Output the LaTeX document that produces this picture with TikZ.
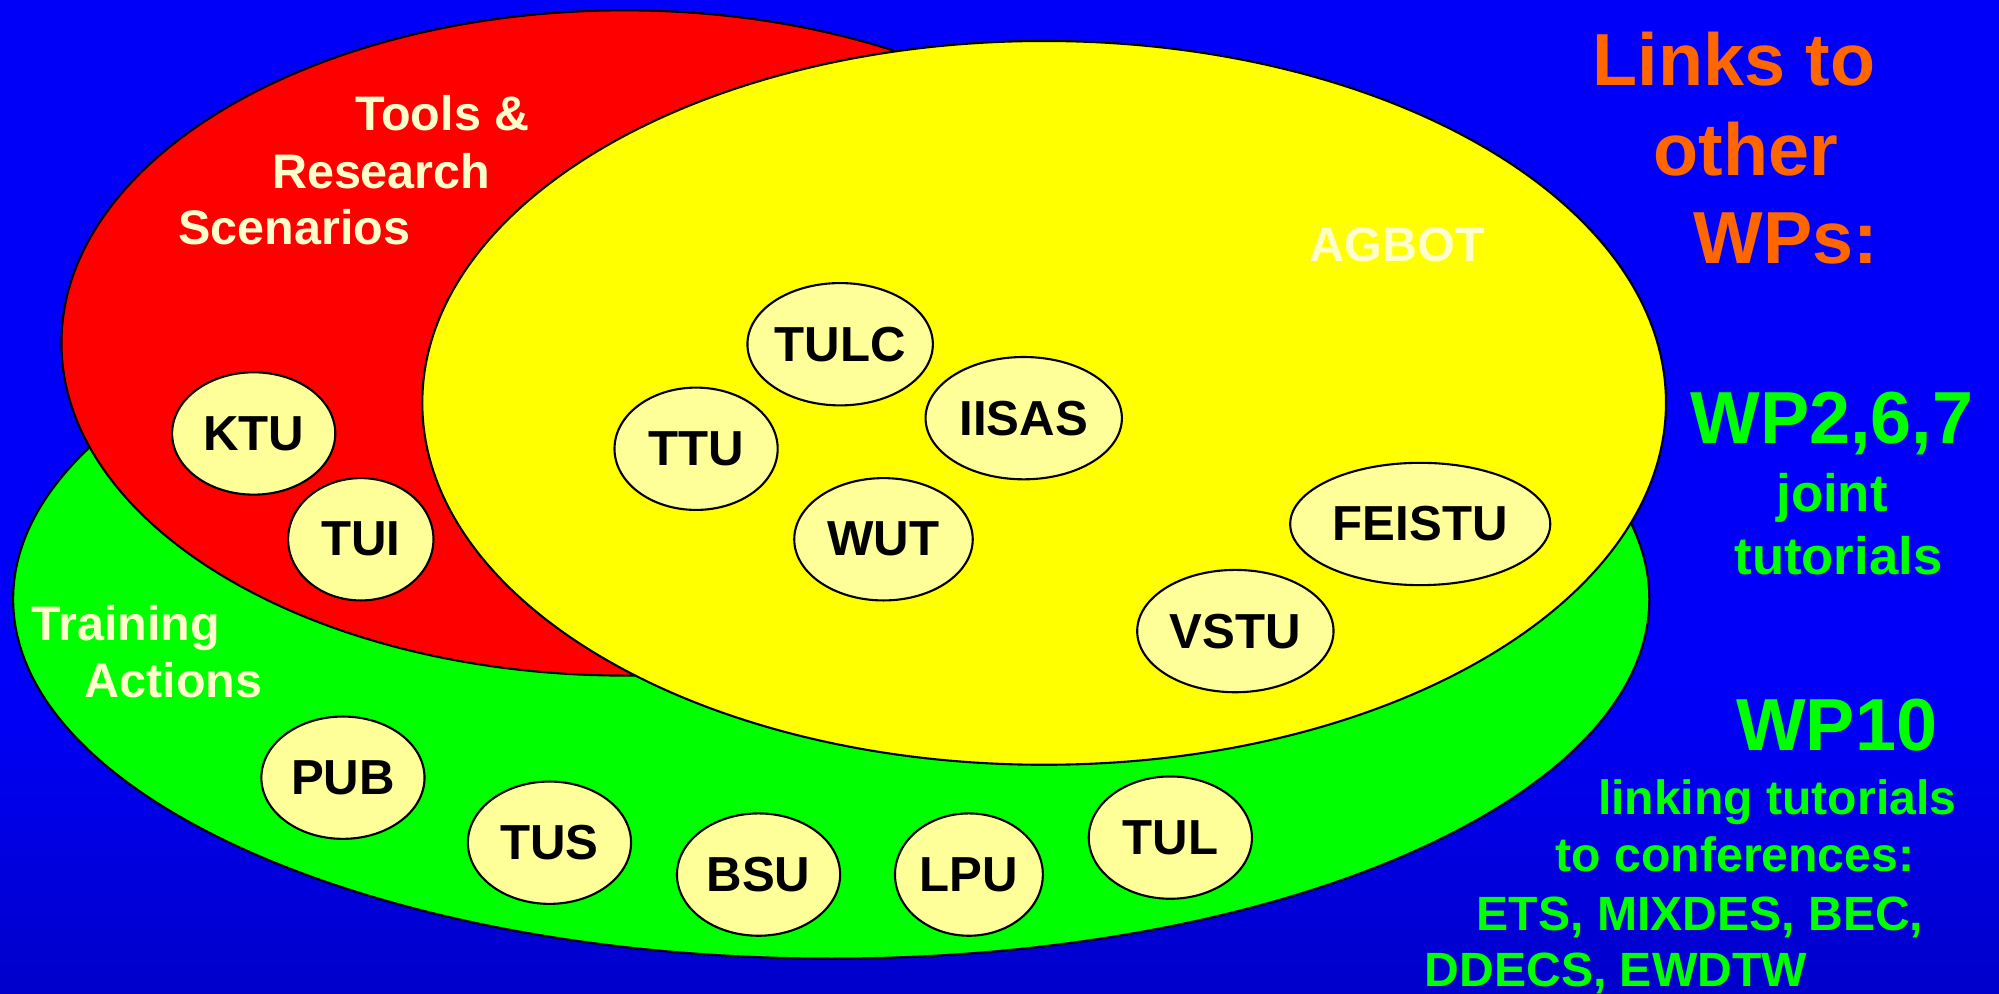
\documentclass[tikz,border=0pt]{standalone}
\usepackage{fontspec}
\setmainfont{Liberation Sans}
\usetikzlibrary{shapes.geometric}

\definecolor{bluscuro}{HTML}{0000A8}
\definecolor{blu}{HTML}{0000F8}
\definecolor{blufondo}{HTML}{00007E}
\definecolor{rosso}{HTML}{FF0000}
\definecolor{giallo}{HTML}{FFFF00}
\definecolor{verde}{HTML}{00FF00}
\definecolor{crema}{HTML}{FFFF99}
\definecolor{testo}{HTML}{FFFFCC}
\definecolor{arancio}{HTML}{FF6600}

% sfumatura dello sfondo (dal basso verso l'alto)
\pgfdeclareverticalshading{fondo}{100bp}{color(0bp)=(blufondo); color(40bp)=(blu);
  color(76bp)=(blu); color(100bp)=(bluscuro)}

\begin{document}
\begin{tikzpicture}[x=0.01275cm, y=-0.01275cm]
\tikzstyle{area} = [draw, line width=0.6pt, ellipse, inner sep=0]
\tikzstyle{ente} = [draw, line width=0.6pt, ellipse, fill=crema, inner sep=0, minimum height=1.224cm, font=\fontsize{14}{17}\selectfont\bfseries]
\tikzstyle{etich} = [anchor=base, text=testo, inner sep=0, font=\fontsize{13.8}{17}\selectfont\bfseries]
\tikzstyle{titolo} = [anchor=base, inner sep=0, font=\fontsize{21}{25}\selectfont\bfseries]
\tikzstyle{nota} = [anchor=base, inner sep=0, text=verde, font=\fontsize{13.7}{17}\selectfont\bfseries]

% Sfondo
\useasboundingbox (0,0) rectangle (1568,779);
\clip (0,0) rectangle (1568,779);
\shade[shading=fondo] (0,0) rectangle (1568,779);

% Tre aree
\node[area, fill=verde, minimum width=16.371cm, minimum height=7.191cm] (training) at (652,470) {};
\node[area, fill=rosso, minimum width=11.271cm, minimum height=6.656cm] (tools) at (490,269) {};
\node[area, fill=giallo, minimum width=12.444cm, minimum height=7.242cm] (agbot) at (819,316) {};

% Partner
\foreach \nome/\testo/\x/\y/\r in {
    tulc/TULC/659/270/70, iisas/IISAS/803/328/77, ttu/TTU/546/352/64,
    wut/WUT/693/423/70, ktu/KTU/199/340/64, tui/TUI/283/423/57,
    feistu/FEISTU/1114/411/102, vstu/VSTU/969/495/77,
    pub/PUB/269/610/64, tus/TUS/431/661/64, bsu/BSU/595/686/64,
    lpu/LPU/760/686/58, tul/TUL/918/657/64} {
  \pgfmathsetmacro{\larg}{2*\r*0.01275}
  \node[ente, minimum width=\larg cm] (\nome) at (\x,\y) {\testo};
}

% Nomi delle aree
\foreach \nome/\testo/\x/\y in {
    t-1/Tools \&/347/102.5, t-2/Research/299/147.7, t-3/Scenarios/231/192,
    a-1/AGBOT/1096/205, g-1/Training/98.5/502.5, g-2/Actions/136/547} {
  \node[etich] (\nome) at (\x,\y) {\testo};
}

% Legami con gli altri WP
\node[titolo, text=arancio] (link-1) at (1360,66.7) {Links to};
\node[titolo, text=arancio] (link-2) at (1369.5,137.3) {other};
\node[titolo, text=arancio] (link-3) at (1401,206.5) {WPs:};

\node[titolo, text=verde] (wp-a) at (1437,348) {WP2,6,7};
\node[nota, font=\fontsize{15}{18}\selectfont\bfseries] (wp-a1) at (1437,401) {joint};
\node[nota, font=\fontsize{15}{18}\selectfont\bfseries] (wp-a2) at (1442,451) {tutorials};

\node[titolo, text=verde] (wp-b) at (1440.6,588.8) {WP10};
\node[nota] (wp-b1) at (1394,639) {linking tutorials};
\node[nota] (wp-b2) at (1361,683.7) {to conferences:};
\node[nota] (wp-b3) at (1333.5,729.5) {ETS, MIXDES, BEC,};
\node[nota] (wp-b4) at (1267.5,774) {DDECS, EWDTW};

\end{tikzpicture}
\end{document}
